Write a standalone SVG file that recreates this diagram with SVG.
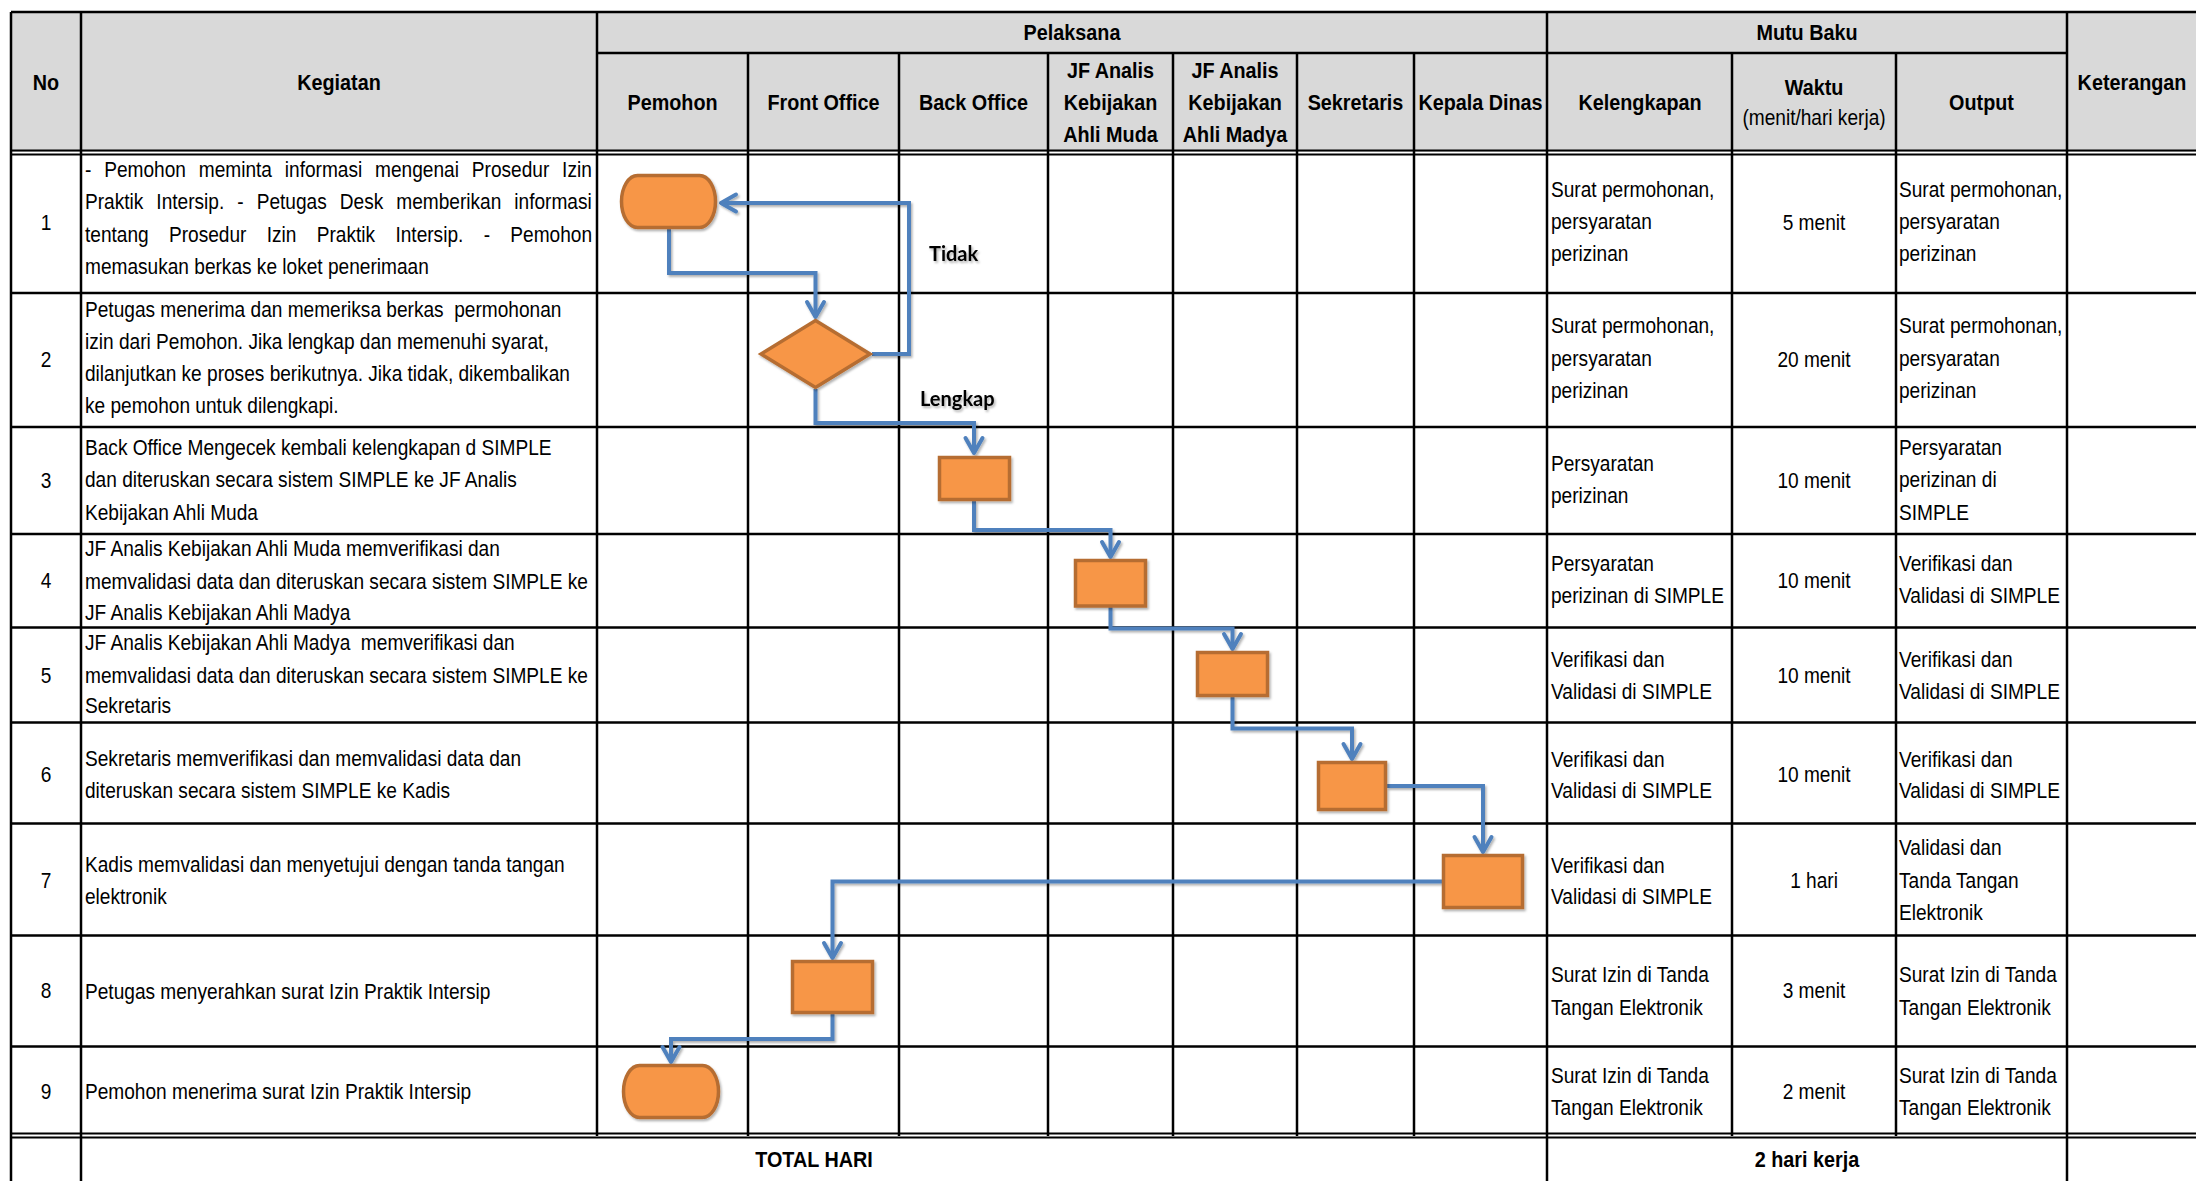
<svg xmlns="http://www.w3.org/2000/svg" width="2196" height="1181" viewBox="0 0 2196 1181">
<style>
.r{font-family:"Liberation Sans",Arial,sans-serif;font-size:21.5px;fill:#000}
.h{font-family:"Liberation Sans",Arial,sans-serif;font-size:22px;font-weight:bold;fill:#000;text-anchor:middle}
.c{text-anchor:middle}
.lbl{font-family:Lato,"Liberation Sans",sans-serif;font-weight:bold;font-size:20px;fill:#000}
.ln{stroke:#000;stroke-width:2.5;fill:none}
.dl{stroke:#000;stroke-width:2;fill:none}
.shape{fill:#F79646;stroke:#B66D31;stroke-width:3.5}
.conn{fill:none;stroke:#4F81BD;stroke-width:4;marker-end:url(#ah)}
</style>
<defs>
<marker id="ah" markerUnits="userSpaceOnUse" markerWidth="36" markerHeight="36" viewBox="-24 -18 36 36" refX="0" refY="0" orient="auto">
<path d="M-15,-8.5 L0,0 L-15,8.5" fill="none" stroke="#4F81BD" stroke-width="4" stroke-linejoin="round" stroke-linecap="round"/>
</marker>
<filter id="sh" filterUnits="userSpaceOnUse" x="0" y="0" width="2196" height="1181">
<feDropShadow dx="1.5" dy="2" stdDeviation="1.2" flood-color="#000" flood-opacity="0.3"/>
</filter>
</defs>
<rect x="0" y="0" width="2196" height="1181" fill="#fff"/>
<rect x="11" y="12" width="2189" height="140" fill="#D9D9D9"/>

<g id="grid">
<path class="ln" d="M11,12 H2200 M597,53 H2067 M11,293 H2200 M11,427 H2200 M11,534 H2200 M11,627.5 H2200 M11,722.5 H2200 M11,823.5 H2200 M11,935.5 H2200 M11,1046.5 H2200"/>
<path class="dl" d="M11,150.5 H2200 M11,154.5 H2200 M11,1133.5 H2200 M11,1137.5 H2200"/>
<path class="ln" d="M11,12 V1181 M81,12 V1181 M597,12 V1136 M1547,12 V1181 M2067,12 V1181 M748,53 V1136 M899,53 V1136 M1048,53 V1136 M1173,53 V1136 M1297,53 V1136 M1414,53 V1136 M1732,53 V1136 M1896,53 V1136"/>
</g>

<g id="header-text">
<text class="h" transform="translate(46,90) scale(0.9,1)">No</text>
<text class="h" transform="translate(339,90) scale(0.9,1)">Kegiatan</text>
<text class="h" transform="translate(1072,40) scale(0.9,1)">Pelaksana</text>
<text class="h" transform="translate(1807,40) scale(0.9,1)">Mutu Baku</text>
<text class="h" transform="translate(2132,90) scale(0.9,1)">Keterangan</text>
<text class="h" transform="translate(672.5,110) scale(0.9,1)">Pemohon</text>
<text class="h" transform="translate(823.5,110) scale(0.9,1)">Front Office</text>
<text class="h" transform="translate(973.5,110) scale(0.9,1)">Back Office</text>
<g transform="translate(1110.5,0) scale(0.9,1)">
<text class="h" x="0" y="78">JF Analis</text>
<text class="h" x="0" y="110">Kebijakan</text>
<text class="h" x="0" y="142">Ahli Muda</text>
</g>
<g transform="translate(1235,0) scale(0.9,1)">
<text class="h" x="0" y="78">JF Analis</text>
<text class="h" x="0" y="110">Kebijakan</text>
<text class="h" x="0" y="142">Ahli Madya</text>
</g>
<text class="h" transform="translate(1355.5,110) scale(0.9,1)">Sekretaris</text>
<text class="h" transform="translate(1480.5,110) scale(0.9,1)">Kepala Dinas</text>
<text class="h" transform="translate(1640,110) scale(0.9,1)">Kelengkapan</text>
<text class="h" transform="translate(1814,95) scale(0.9,1)">Waktu</text>
<text class="r c" transform="translate(1814,125) scale(0.888,1)">(menit/hari kerja)</text>
<text class="h" transform="translate(1981.5,110) scale(0.9,1)">Output</text>
</g>

<g id="col-no" class="r" transform="translate(46,0) scale(0.888,1)">
<text class="c" x="0" y="230">1</text>
<text class="c" x="0" y="367">2</text>
<text class="c" x="0" y="488">3</text>
<text class="c" x="0" y="588">4</text>
<text class="c" x="0" y="683">5</text>
<text class="c" x="0" y="782">6</text>
<text class="c" x="0" y="888">7</text>
<text class="c" x="0" y="998">8</text>
<text class="c" x="0" y="1099">9</text>
</g>

<g id="col-kegiatan" class="r" transform="translate(85,0) scale(0.888,1)">
<text x="0" y="177.5" word-spacing="8.5">- Pemohon meminta informasi mengenai Prosedur Izin</text>
<text x="0" y="209.5" word-spacing="8.7">Praktik Intersip. - Petugas Desk memberikan informasi</text>
<text x="0" y="242" word-spacing="16.9">tentang Prosedur Izin Praktik Intersip. - Pemohon</text>
<text x="0" y="274">memasukan berkas ke loket penerimaan</text>
<text x="0" y="317" xml:space="preserve">Petugas menerima dan memeriksa berkas  permohonan</text>
<text x="0" y="349">izin dari Pemohon. Jika lengkap dan memenuhi syarat,</text>
<text x="0" y="381.5">dilanjutkan ke proses berikutnya. Jika tidak, dikembalikan</text>
<text x="0" y="413.5">ke pemohon untuk dilengkapi.</text>
<text x="0" y="455">Back Office Mengecek kembali kelengkapan d SIMPLE</text>
<text x="0" y="487.5">dan diteruskan secara sistem SIMPLE ke JF Analis</text>
<text x="0" y="520">Kebijakan Ahli Muda</text>
<text x="0" y="556.5">JF Analis Kebijakan Ahli Muda memverifikasi dan</text>
<text x="0" y="589">memvalidasi data dan diteruskan secara sistem SIMPLE ke</text>
<text x="0" y="620.5">JF Analis Kebijakan Ahli Madya</text>
<text x="0" y="650.5" xml:space="preserve">JF Analis Kebijakan Ahli Madya  memverifikasi dan</text>
<text x="0" y="683">memvalidasi data dan diteruskan secara sistem SIMPLE ke</text>
<text x="0" y="713.5">Sekretaris</text>
<text x="0" y="766">Sekretaris memverifikasi dan memvalidasi data dan</text>
<text x="0" y="798">diteruskan secara sistem SIMPLE ke Kadis</text>
<text x="0" y="872.5">Kadis memvalidasi dan menyetujui dengan tanda tangan</text>
<text x="0" y="904">elektronik</text>
<text x="0" y="999">Petugas menyerahkan surat Izin Praktik Intersip</text>
<text x="0" y="1099">Pemohon menerima surat Izin Praktik Intersip</text>
</g>

<g id="col-kelengkapan" class="r" transform="translate(1551,0) scale(0.888,1)">
<text x="0" y="197">Surat permohonan,</text>
<text x="0" y="229">persyaratan</text>
<text x="0" y="261">perizinan</text>
<text x="0" y="333">Surat permohonan,</text>
<text x="0" y="366">persyaratan</text>
<text x="0" y="398">perizinan</text>
<text x="0" y="471.5">Persyaratan</text>
<text x="0" y="503.5">perizinan</text>
<text x="0" y="571.5">Persyaratan</text>
<text x="0" y="603.5">perizinan di SIMPLE</text>
<text x="0" y="667">Verifikasi dan</text>
<text x="0" y="699.5">Validasi di SIMPLE</text>
<text x="0" y="767">Verifikasi dan</text>
<text x="0" y="798">Validasi di SIMPLE</text>
<text x="0" y="873">Verifikasi dan</text>
<text x="0" y="904.5">Validasi di SIMPLE</text>
<text x="0" y="982">Surat Izin di Tanda</text>
<text x="0" y="1015">Tangan Elektronik</text>
<text x="0" y="1083">Surat Izin di Tanda</text>
<text x="0" y="1115">Tangan Elektronik</text>
</g>

<g id="col-waktu" class="r" transform="translate(1814,0) scale(0.888,1)">
<text class="c" x="0" y="230">5 menit</text>
<text class="c" x="0" y="367">20 menit</text>
<text class="c" x="0" y="488">10 menit</text>
<text class="c" x="0" y="588">10 menit</text>
<text class="c" x="0" y="683">10 menit</text>
<text class="c" x="0" y="782">10 menit</text>
<text class="c" x="0" y="888">1 hari</text>
<text class="c" x="0" y="998">3 menit</text>
<text class="c" x="0" y="1099">2 menit</text>
</g>

<g id="col-output" class="r" transform="translate(1899,0) scale(0.888,1)">
<text x="0" y="197">Surat permohonan,</text>
<text x="0" y="229">persyaratan</text>
<text x="0" y="261">perizinan</text>
<text x="0" y="333">Surat permohonan,</text>
<text x="0" y="366">persyaratan</text>
<text x="0" y="398">perizinan</text>
<text x="0" y="455">Persyaratan</text>
<text x="0" y="487">perizinan di</text>
<text x="0" y="520">SIMPLE</text>
<text x="0" y="571.5">Verifikasi dan</text>
<text x="0" y="603.5">Validasi di SIMPLE</text>
<text x="0" y="667">Verifikasi dan</text>
<text x="0" y="699.5">Validasi di SIMPLE</text>
<text x="0" y="767">Verifikasi dan</text>
<text x="0" y="798">Validasi di SIMPLE</text>
<text x="0" y="855.5">Validasi dan</text>
<text x="0" y="888">Tanda Tangan</text>
<text x="0" y="920">Elektronik</text>
<text x="0" y="982">Surat Izin di Tanda</text>
<text x="0" y="1015">Tangan Elektronik</text>
<text x="0" y="1083">Surat Izin di Tanda</text>
<text x="0" y="1115">Tangan Elektronik</text>
</g>

<g id="total-row">
<text class="h" transform="translate(814,1167) scale(0.9,1)">TOTAL HARI</text>
<text class="h" transform="translate(1807,1167) scale(0.9,1)">2 hari kerja</text>
</g>

<g id="connectors" filter="url(#sh)">
<path class="conn" d="M669,229 V273 H815.5 V317"/>
<path class="conn" d="M872,354 H909 V203 H721"/>
<path class="conn" d="M815.5,389 V423 H974 V453"/>
<path class="conn" d="M974,501 V530 H1110.5 V557"/>
<path class="conn" d="M1110.5,607 V628.5 H1232.5 V649"/>
<path class="conn" d="M1232.5,697 V728.5 H1352 V759"/>
<path class="conn" d="M1387,786 H1483 V852"/>
<path class="conn" d="M1442,881.5 H832.5 V958"/>
<path class="conn" d="M832.5,1014 V1039 H671 V1062"/>
<text class="lbl" x="929" y="261">Tidak</text>
<text class="lbl" x="920" y="406">Lengkap</text>
</g>

<g id="n1-start" filter="url(#sh)"><rect class="shape" x="621.5" y="175.5" width="94" height="52" rx="16" ry="26"/></g>
<g id="n2-decision" filter="url(#sh)"><polygon class="shape" points="815.5,320.5 870,354 815.5,387.5 761,354"/></g>
<g id="n3-back-office" filter="url(#sh)"><rect class="shape" x="939.5" y="457.5" width="70" height="42"/></g>
<g id="n4-jf-muda" filter="url(#sh)"><rect class="shape" x="1075.5" y="560.5" width="70" height="45.5"/></g>
<g id="n5-jf-madya" filter="url(#sh)"><rect class="shape" x="1197.5" y="652.5" width="70" height="43"/></g>
<g id="n6-sekretaris" filter="url(#sh)"><rect class="shape" x="1318.5" y="762.5" width="67" height="47"/></g>
<g id="n7-kepala-dinas" filter="url(#sh)"><rect class="shape" x="1443.5" y="855.5" width="79" height="52"/></g>
<g id="n8-front-office" filter="url(#sh)"><rect class="shape" x="792.5" y="961.5" width="80" height="51"/></g>
<g id="n9-end" filter="url(#sh)"><rect class="shape" x="623.5" y="1065.5" width="95" height="52" rx="16" ry="26"/></g>
</svg>
